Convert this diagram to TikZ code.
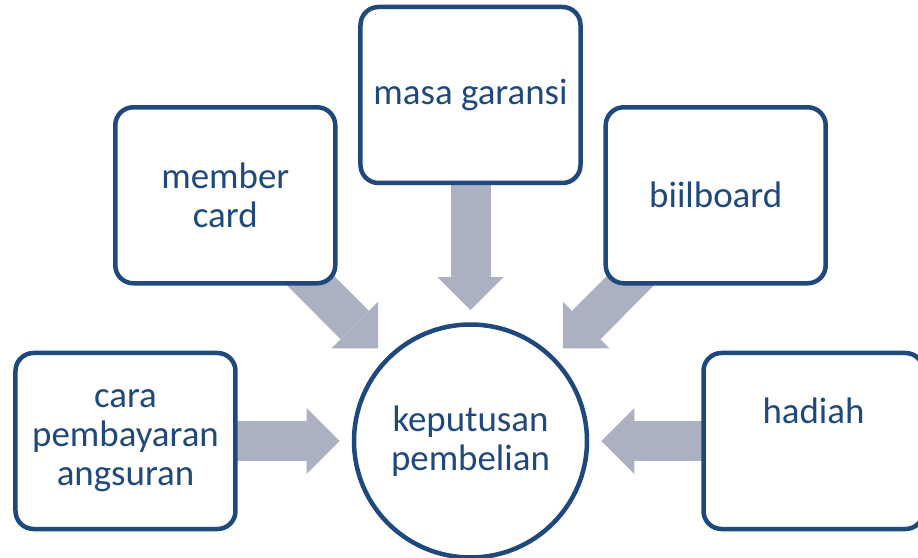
\documentclass[tikz,border=0pt]{standalone}
\usepackage{fontspec}
\setmainfont{Carlito}
\usetikzlibrary{arrows.meta, positioning, backgrounds}
\definecolor{boxblue}{HTML}{1F497D}
\definecolor{arrowgray}{HTML}{ABB1C0}

\begin{document}
\begin{tikzpicture}[
    font=\fontsize{21}{22.2}\selectfont,
    every node/.style={align=center},
    arrow/.style={-{Triangle[length=0.66cm, width=1.32cm, line width=0pt]},
        line width=0.8cm, color=arrowgray, shorten >=0.24cm},
]

% --- Style definitions ---
\tikzset{
    factor/.style = {draw=boxblue, line width=0.09cm, rounded corners=0.36cm, fill=white,
        text=boxblue, minimum width=4.4cm, minimum height=3.52cm},
    decision/.style = {draw=boxblue, line width=0.09cm, circle, fill=white,
        text=boxblue, minimum size=4.66cm},
}

\useasboundingbox (-9.41,-2.32) rectangle (8.95,8.82);

% --- Centre: decision ---
\node (keputusan) [decision] at (0,0) {keputusan\\pembelian};

% --- Factors around it ---
\node (garansi) [factor, above=2.74cm of keputusan] {masa garansi};
\node (member) [factor, above left=1.43cm and 0.98cm of keputusan] {member\\card};
\node (billboard) [factor, above right=1.43cm and 0.98cm of keputusan] {biilboard};
\node (angsuran) [factor, left=2.28cm of keputusan] {cara\\pembayaran\\angsuran};
\node (hadiah) [factor, text depth=1.2cm, right=2.24cm of keputusan] {hadiah};

% --- Arrows into the decision ---
\begin{scope}[on background layer]
    \draw [arrow] (garansi.center) -- (keputusan);
    \draw [arrow] (member.center) -- (keputusan);
    \draw [arrow] (billboard.center) -- (keputusan);
    \draw [arrow] (angsuran.center) -- (keputusan);
    \draw [arrow] (hadiah.center) -- (keputusan);
\end{scope}

\end{tikzpicture}
\end{document}
